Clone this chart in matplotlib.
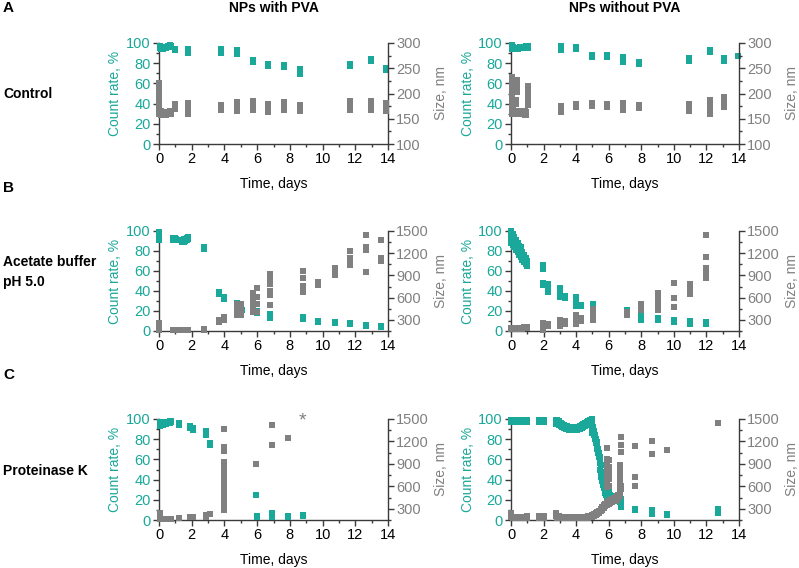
import numpy as np
import matplotlib
matplotlib.use('Agg')
import matplotlib.pyplot as plt
from matplotlib.ticker import MultipleLocator

plt.rcParams['font.family'] = ['Liberation Sans', 'DejaVu Sans']

TEAL = '#1aa89a'
GRAY = '#808080'
SPINE = '#3a3a3a'

col_titles = ['NPs with PVA', 'NPs without PVA']
row_letters = ['A', 'B', 'C']
row_labels = ['Control', 'Acetate buffer\npH 5.0', 'Proteinase K']

# ---------------- data: (time in days, [values measured at that time]) ----------------
# Row A - control
a_pva_cr = [(0.05, [97, 95]), (0.15, [96, 94]), (0.25, [95, 94]), (0.35, [95, 96]), (0.45, [96, 95]),
            (0.55, [97, 96]), (0.65, [98, 97]), (0.75, [97, 96]), (1.0, [94, 93]), (1.8, [94, 92, 90]),
            (3.8, [94, 92, 90]), (4.75, [93, 91, 89]), (5.75, [83, 81]), (6.65, [79, 77]),
            (7.65, [78, 76]), (8.6, [74, 71, 69]), (11.7, [79, 77]), (12.95, [84, 82]), (13.85, [75, 73])]
a_pva_sz = [(0.02, [220, 210, 200, 190, 180, 170, 160]), (0.15, [165, 160, 158]), (0.25, [163, 158]),
            (0.35, [162, 158]), (0.45, [162, 158]), (0.55, [163, 159]), (0.65, [165, 160]), (0.75, [166, 160]),
            (1.0, [180, 175, 170]), (1.8, [182, 176, 170, 164, 160]), (3.8, [178, 172, 167]),
            (4.75, [183, 177, 171, 166]), (5.75, [185, 179, 173, 168]), (6.65, [180, 174, 168, 164]),
            (7.65, [183, 177, 171, 168]), (8.6, [178, 172, 166]), (11.7, [185, 179, 173, 167]),
            (12.95, [185, 179, 173, 167]), (13.85, [182, 176, 170, 165])]
a_nopva_cr = [(0.05, [98, 96, 94]), (0.15, [96, 94]), (0.25, [95, 94]), (0.35, [95, 94]), (0.45, [95, 94]),
              (0.55, [96, 95]), (0.65, [96, 95]), (0.75, [96, 95]), (0.85, [96, 95]), (0.95, [97, 96]),
              (1.05, [97, 95]), (3.05, [97, 95, 93]), (4.0, [96, 94]), (5.0, [88, 86]), (5.9, [88, 86]),
              (6.9, [86, 84, 81]), (7.85, [81, 79]), (10.9, [85, 82]), (12.2, [93, 91]), (13.1, [85, 82]),
              (13.95, [87])]
a_nopva_sz = [(0.05, [232, 222, 212, 202, 192, 182, 172, 164, 160]), (0.35, [226, 218, 210, 202]),
              (0.3, [188, 180]), (0.15, [168, 162]), (0.25, [166, 161]), (0.45, [166, 160]), (0.55, [165, 160]),
              (0.65, [165, 160]), (0.75, [165, 159]), (0.85, [165, 158]), (0.95, [164, 158]),
              (1.05, [215, 205, 195, 185, 178]), (3.05, [176, 170, 164]), (4.0, [180, 174]), (5.0, [181, 175]),
              (5.9, [180, 174]), (6.9, [182, 175, 168]), (7.85, [178, 172]), (10.9, [180, 173, 166]),
              (12.2, [187, 180, 172, 165, 159]), (13.1, [193, 186, 179, 174])]

# Row B - acetate buffer pH 5.0
b_pva_cr = [(0.03, [99, 97, 95, 93, 91]), (0.85, [93, 91]), (0.95, [93, 91]), (1.05, [92, 91]), (1.4, [91, 89]),
            (1.5, [92, 89]), (1.6, [92, 90]), (1.7, [93, 91]), (1.8, [94, 92]), (2.75, [84, 82]),
            (3.65, [39, 37]), (4.0, [34, 32]), (4.75, [28, 26]), (5.05, [21]), (5.75, [20, 19]),
            (6.0, [20, 18]), (6.8, [17, 15, 13]), (8.8, [14, 12]), (9.75, [10, 9]), (10.75, [9, 8]),
            (11.65, [8, 7]), (12.65, [6, 5]), (13.6, [5, 4])]
b_pva_sz = [(0.03, [260, 210, 170]), (0.85, [165]), (0.95, [165]), (1.05, [165]), (1.4, [165]), (1.5, [165]),
            (1.6, [165]), (1.7, [165]), (1.8, [165]), (2.75, [180, 170]), (3.65, [300, 270]), (4.0, [340, 300]),
            (4.75, [520, 480, 440, 400, 370]), (5.0, [510, 460, 410, 370]),
            (5.75, [660, 610, 560, 510, 460, 410]), (6.0, [730, 610, 510, 400]),
            (6.8, [920, 860, 790, 690, 640, 500]), (8.8, [960, 860, 760, 680]), (9.75, [810, 770]),
            (10.75, [1000, 960, 900]), (11.65, [1230, 1140, 1090, 1040]), (12.65, [1450, 1290, 1240, 940]),
            (13.6, [1380, 1140, 1090])]
b_nopva_cr = [(0.0, [100, 97, 94, 91, 88]), (0.1, [97, 94, 91, 88, 86]), (0.2, [94, 91, 88, 86, 84]),
              (0.3, [91, 88, 85, 83, 81]), (0.4, [88, 85, 82, 79]), (0.5, [85, 82, 79, 76]),
              (0.6, [84, 82, 79, 76, 74]), (0.7, [79, 76, 73, 71]), (0.8, [76, 73, 71, 69]),
              (0.9, [73, 70, 67]), (1.0, [70, 67, 65]), (1.95, [66, 64, 62, 48, 46]), (2.3, [47, 44, 41, 39]),
              (3.0, [43, 41, 36, 34]), (3.3, [35, 33]), (4.0, [34, 32, 27, 25]), (4.3, [26, 25]),
              (5.05, [27, 25, 23, 21]), (7.1, [21, 19]), (8.0, [21, 19, 13, 11]), (9.0, [13, 11]),
              (10.0, [11, 9]), (11.0, [10, 8, 7]), (11.95, [9, 7])]
b_nopva_sz = [(0.0, [190, 175]), (0.1, [185, 175]), (0.2, [185, 178]), (0.3, [188, 178]), (0.4, [190, 180]),
              (0.5, [190, 180]), (0.6, [192, 182]), (0.7, [195, 183]), (0.8, [198, 185]), (0.9, [200, 188]),
              (1.0, [210, 195]), (1.95, [260, 230, 200, 170]), (2.3, [250, 215]), (3.0, [300, 260, 220]),
              (3.3, [280, 240]), (4.0, [360, 320, 280, 240]), (4.3, [330, 290]), (5.05, [450, 400, 350, 300]),
              (7.1, [400, 370]), (8.0, [510, 440]), (9.0, [660, 580, 510, 430]), (10.0, [800, 590, 470]),
              (11.0, [790, 730, 650]), (11.95, [1450, 1150, 1000, 930, 870])]

# Row C - proteinase K
c_pva_cr = [(0.05, [97, 95, 93]), (0.15, [96, 94]), (0.25, [96, 94]), (0.35, [96, 95]), (0.45, [97, 95]),
            (0.55, [97, 96]), (0.65, [98, 96]), (0.75, [98, 97]), (1.2, [96, 94]), (1.9, [93, 91]),
            (2.1, [91, 89]), (2.85, [88, 86, 84]), (3.1, [76, 74]), (3.95, [20, 17, 14]), (5.95, [25]),
            (6.0, [4, 3]), (6.9, [7, 5, 3]), (7.9, [4, 3]), (8.8, [5, 4])]
c_pva_sz = [(0.05, [250, 210, 170]), (0.15, [170]), (0.3, [170]), (0.45, [170]), (0.6, [170]), (0.75, [170]),
            (1.2, [175]), (1.9, [185]), (2.1, [185]), (2.85, [220, 195]), (3.1, [230]),
            (3.95, [1370, 1130, 1070, 930, 880, 830, 780, 730, 680, 630, 580, 530, 480, 430, 380, 330, 280]),
            (5.95, [900]), (6.9, [1420, 1150]), (7.9, [1240])]
c_pva_star = (8.75, 1480)
c_nopva_cr = [(0.0, [99, 97]), (0.1, [99, 97]), (0.2, [99, 97]), (0.3, [99, 97]), (0.4, [99, 97]),
              (0.5, [99, 97]), (0.6, [99, 97]), (0.7, [99, 97]), (0.8, [99, 97]), (0.9, [99, 97]),
              (1.0, [99, 97]), (1.7, [99, 97]), (1.8, [99, 97]), (1.9, [99, 97]), (2.0, [99, 97]),
              (2.75, [99, 97, 95]), (2.85, [99, 97, 95]), (2.95, [98, 96, 94]), (3.05, [96, 93]),
              (3.15, [95, 92]), (3.25, [94, 91]), (3.35, [93, 90]), (3.45, [93, 90]), (3.55, [92, 89]),
              (3.65, [92, 89]), (3.75, [92, 89]), (3.85, [92, 89]), (3.95, [92, 89]), (4.05, [92, 89]),
              (4.15, [92, 90]), (4.25, [93, 90]), (4.35, [94, 91]), (4.45, [95, 92]), (4.55, [96, 93]),
              (4.65, [97, 94]), (4.75, [98, 96]), (4.85, [99, 97]), (4.95, [100, 98, 94, 90, 86]),
              (5.05, [92, 88]), (5.1, [88, 84]), (5.15, [84, 80]), (5.2, [80, 76]), (5.25, [77, 73]),
              (5.3, [74, 70]), (5.35, [70, 66]), (5.4, [66, 62]), (5.45, [62, 56, 50]), (5.5, [54, 48]),
              (5.55, [48, 43]), (5.6, [43, 39]), (5.65, [39, 35]), (5.7, [36, 32]), (5.75, [33, 29]),
              (5.8, [30, 27]), (5.85, [28, 25]), (5.9, [27, 23]), (5.95, [26, 22]), (6.0, [33, 28, 24, 21]),
              (6.05, [25, 21]), (6.1, [24, 21]), (6.2, [24, 21]), (6.3, [24, 21]), (6.4, [24, 21]),
              (6.5, [24, 21]), (6.6, [23, 20]), (6.7, [22, 18]), (6.75, [21, 18, 15, 13]), (7.6, [11, 10]),
              (8.65, [10, 8, 6]), (9.6, [6, 5]), (12.7, [11, 9, 7])]
c_nopva_sz = [(0.0, [250, 220, 190]), (0.1, [195, 180]), (0.2, [195, 180]), (0.3, [195, 180]), (0.4, [195, 180]),
              (0.5, [195, 180]), (0.6, [195, 180]), (0.7, [195, 180]), (0.8, [195, 180]), (0.9, [195, 180]),
              (1.0, [200, 180]), (1.7, [200, 180]), (1.8, [200, 180]), (1.9, [200, 180]), (2.0, [200, 180]),
              (2.75, [240, 200]), (2.85, [200, 180]), (2.95, [200, 180]), (3.05, [190, 175]), (3.2, [190, 175]),
              (3.35, [190, 175]), (3.5, [190, 175]), (3.65, [190, 175]), (3.8, [190, 175]), (3.95, [190, 175]),
              (4.1, [190, 175]), (4.25, [190, 175]), (4.4, [192, 177]), (4.55, [195, 180]), (4.7, [198, 182]),
              (4.85, [205, 185]), (5.0, [215, 195]), (5.1, [225, 205]), (5.2, [240, 215]), (5.3, [255, 230]),
              (5.4, [275, 245]), (5.5, [300, 265]), (5.6, [325, 290]), (5.7, [350, 310]), (5.8, [370, 335]),
              (5.9, [1110, 960, 880, 800, 730, 650, 590, 390, 355]), (6.0, [950, 860, 780, 700, 610, 405, 370]),
              (6.1, [415, 380]), (6.2, [425, 390]), (6.3, [440, 400]), (6.4, [450, 410]), (6.5, [465, 420]),
              (6.6, [490, 440]), (6.7, [540, 470, 620, 690, 750, 820, 880]), (6.75, [1265, 1155, 1060, 600, 560]),
              (7.6, [1140, 725, 610]), (8.65, [1200, 1030]), (9.6, [1080]), (12.7, [1445])]

panels = [
    (a_pva_cr, a_pva_sz, a_nopva_cr, a_nopva_sz),
    (b_pva_cr, b_pva_sz, b_nopva_cr, b_nopva_sz),
    (c_pva_cr, c_pva_sz, c_nopva_cr, c_nopva_sz),
]
size_limits = [(100, 300), (150, 1500), (150, 1500)]
size_major = [50, 300, 300]
size_minor = [25, 150, 150]
size_tick_start = [100, 300, 300]


def expand(groups):
    t, v = [], []
    for ti, vals in groups:
        for vv in vals:
            t.append(ti)
            v.append(vv)
    return np.array(t), np.array(v)


W, H = 799, 568
fig = plt.figure(figsize=(W / 100, H / 100), dpi=100)

col_x = [(159, 388), (511, 739)]
row_y = [(43, 144), (231, 331), (419, 520)]
FS = 10
TFS = 10.5
MS = 4.6

for r in range(3):
    for c in range(2):
        x0, x1 = col_x[c]
        y0, y1 = row_y[r]
        ax = fig.add_axes([x0 / W, 1 - y1 / H, (x1 - x0) / W, (y1 - y0) / H])
        ax2 = ax.twinx()
        cr = panels[r][2 * c]
        sz = panels[r][2 * c + 1]
        t, v = expand(cr)
        ax.plot(t, v, 's', color=TEAL, ms=MS, mew=0, clip_on=False, zorder=3)
        t, v = expand(sz)
        ax2.plot(t, v, 's', color=GRAY, ms=MS, mew=0, clip_on=False, zorder=3)

        ax.set_xlim(0, 14)
        ax.set_ylim(0, 100)
        ax2.set_ylim(*size_limits[r])
        ax.xaxis.set_major_locator(MultipleLocator(2))
        ax.xaxis.set_minor_locator(MultipleLocator(1))
        ax.yaxis.set_major_locator(MultipleLocator(20))
        ax.yaxis.set_minor_locator(MultipleLocator(10))
        ax2.set_yticks(np.arange(size_tick_start[r], size_limits[r][1] + 1, size_major[r]))
        ax2.yaxis.set_minor_locator(MultipleLocator(size_minor[r]))

        for a in (ax, ax2):
            a.spines['top'].set_visible(False)
            for s in a.spines.values():
                s.set_color(SPINE)
                s.set_linewidth(1.0)
        ax.spines['right'].set_visible(False)
        ax2.spines['left'].set_visible(False)
        ax2.spines['bottom'].set_visible(False)

        ax.tick_params(axis='both', which='major', direction='out', length=4, width=1, color=SPINE,
                       labelsize=TFS, pad=2)
        ax.tick_params(axis='both', which='minor', direction='out', length=2, width=1, color=SPINE)
        ax.tick_params(axis='y', labelcolor=TEAL)
        ax2.tick_params(axis='y', which='major', direction='out', length=4, width=1, color=SPINE,
                        labelsize=TFS, labelcolor=GRAY, pad=2)
        ax2.tick_params(axis='y', which='minor', direction='out', length=2, width=1, color=SPINE)

        ax.set_xlabel('Time, days', fontsize=FS, labelpad=8)
        ax.set_ylabel('Count rate, %', fontsize=FS, color=TEAL)
        ax.yaxis.set_label_coords(-0.16, 0.5)
        ax2.set_ylabel('Size, nm', fontsize=FS, color=GRAY)
        ax2.yaxis.set_label_coords(1.2, 0.5)

        if r == 2 and c == 0:
            ax2.text(c_pva_star[0], c_pva_star[1], '*', color=GRAY, fontsize=14,
                     ha='center', va='center')

for c, title in enumerate(col_titles):
    xc = (col_x[c][0] + col_x[c][1]) / 2
    fig.text(xc / W, 1 - 8 / H, title, ha='center', va='center', fontsize=FS, fontweight='bold')

letter_y = [8, 188, 375]
label_y = [94, 272, 471]
for r in range(3):
    fig.text(3 / W, 1 - letter_y[r] / H, row_letters[r], ha='left', va='center', fontsize=11,
             fontweight='bold')
    fig.text(3 / W, 1 - label_y[r] / H, row_labels[r], ha='left', va='center', fontsize=FS,
             fontweight='bold', linespacing=1.5)

fig.savefig('out.png', dpi=100)
